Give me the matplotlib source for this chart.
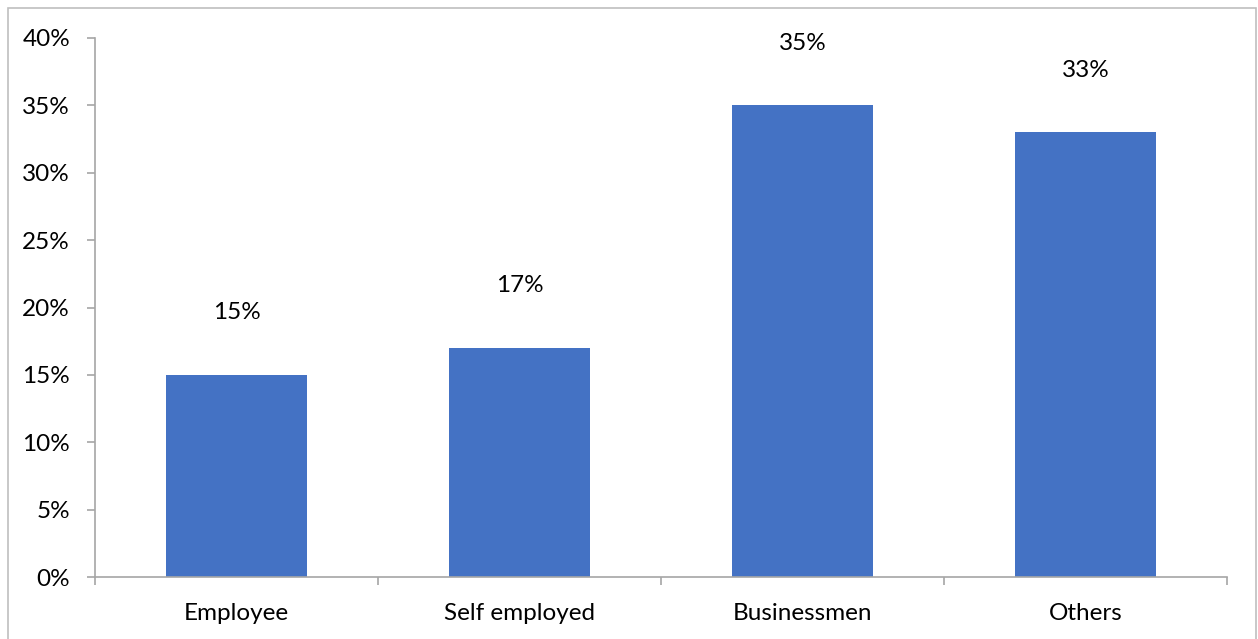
import matplotlib
matplotlib.use("Agg")
import matplotlib.pyplot as plt
from matplotlib.patches import Rectangle
from matplotlib.ticker import FixedLocator

categories = ["Employee", "Self employed", "Businessmen", "Others"]
values = [15, 17, 35, 33]
yticks = [0, 5, 10, 15, 20, 25, 30, 35, 40]

W, H = 1258, 639
fig = plt.figure(figsize=(W / 100, H / 100), dpi=100)
ax = fig.add_axes([95 / W, 1 - 577 / H, (1227 - 95) / W, (577 - 38) / H])

font = "Lato"
gray = "#a6a6a6"
fs = 17.5

x = list(range(len(categories)))
ax.bar(x, values, width=0.5, color="#4472C4", zorder=2)
ax.set_xlim(-0.5, len(categories) - 0.5)
ax.set_ylim(0, 40)

for xi, v in zip(x, values):
    ax.annotate(f"{v}%", (xi, v), xytext=(0, 62), textcoords="offset pixels",
                ha="center", va="center", fontsize=fs, family=font, color="#000000")

ax.set_yticks(yticks)
ax.set_yticklabels([f"{t}%" for t in yticks], fontsize=fs, family=font)
ax.set_xticks(x)
ax.set_xticklabels(categories, fontsize=fs, family=font)
ax.tick_params(axis="x", length=0, pad=19)
ax.xaxis.set_minor_locator(FixedLocator([i - 0.5 for i in range(len(categories) + 1)]))
ax.tick_params(axis="x", which="minor", length=6, color=gray, width=1.2)
ax.tick_params(axis="y", length=6, color=gray, width=1.2, pad=12)

for s in ["top", "right"]:
    ax.spines[s].set_visible(False)
for s in ["left", "bottom"]:
    ax.spines[s].set_color(gray)
    ax.spines[s].set_linewidth(1.2)

fig.patches.append(Rectangle((8 / W, -0.02), (1256 - 8) / W, (H - 8) / H + 0.02,
                             transform=fig.transFigure, fill=False, edgecolor="#bfbfbf",
                             linewidth=1.2, zorder=0))

fig.savefig("out.png", dpi=100)
